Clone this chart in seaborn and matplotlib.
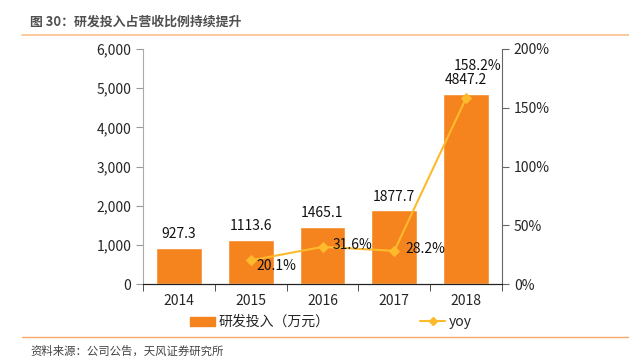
import numpy as np
import pandas as pd
import seaborn as sns
import matplotlib.pyplot as plt
from matplotlib.ticker import FuncFormatter
from matplotlib.lines import Line2D
from matplotlib.patches import Patch

years = ['2014', '2015', '2016', '2017', '2018']
rd_spend = [927.3, 1113.6, 1465.1, 1877.7, 4847.2]
yoy = [np.nan, 20.1, 31.6, 28.2, 158.2]

bar_color = '#F5841F'
line_color = '#FDBA2C'

sns.set_style('white')
plt.rcParams['font.family'] = ['Noto Sans CJK SC', 'DejaVu Sans']
plt.rcParams['axes.unicode_minus'] = False

df = pd.DataFrame({'year': years, 'rd': rd_spend, 'yoy': yoy})
df['pos'] = np.arange(len(df))

fig = plt.figure(figsize=(6.29, 3.56), dpi=100)
ax = fig.add_axes([143 / 629, 1 - 284 / 356, 359 / 629, 235 / 356])

sns.barplot(data=df, x='year', y='rd', color=bar_color, width=0.64,
            saturation=1, ax=ax)
ax.set_xlim(-0.5, 4.5)
ax.set_ylim(0, 6000)
ax.set_yticks(range(0, 6001, 1000))
ax.yaxis.set_major_formatter(FuncFormatter(lambda v, p: f'{int(v):,}'))
ax.set_xlabel('')
ax.set_ylabel('')
ax.set_xticks(np.arange(len(years)))
ax.set_xticklabels(years)
ax.set_xticks(np.arange(-0.5, len(years)), minor=True)
ax.tick_params(axis='x', which='major', length=0, labelsize=10, pad=7)
ax.tick_params(axis='x', which='minor', length=5, direction='out',
               color='#333333', bottom=True)
ax.tick_params(axis='y', length=5, direction='out', color='#999999',
               labelsize=10, left=True)

for i, v in enumerate(rd_spend):
    ax.annotate(f'{v:.1f}', (i, v), xytext=(0, 5), textcoords='offset points',
                ha='center', va='bottom', fontsize=10, color='#111111')

ax2 = ax.twinx()
sns.lineplot(data=df, x='pos', y='yoy', color=line_color, marker='D',
             markersize=5, markeredgecolor=line_color, linewidth=1.5, ax=ax2)
ax2.set_ylim(0, 200)
ax2.set_yticks(range(0, 201, 50))
ax2.yaxis.set_major_formatter(FuncFormatter(lambda v, p: f'{int(v)}%'))
ax2.set_xlim(-0.5, 4.5)
ax2.set_xlabel('')
ax2.set_ylabel('')
ax2.tick_params(axis='y', length=5, direction='out', color='#666666',
                labelsize=10, right=True)

offsets = {1: (4, -4, 'left', 'center'),
           2: (7, 1, 'left', 'center'),
           3: (8, 1, 'left', 'center'),
           4: (8, 18, 'center', 'bottom')}
for i, v in enumerate(yoy):
    if np.isnan(v):
        continue
    dx, dy, ha, va = offsets[i]
    ax2.annotate(f'{v:.1f}%', (i, v), xytext=(dx, dy), textcoords='offset points',
                 ha=ha, va=va, fontsize=10, color='#111111')

for a in (ax, ax2):
    a.spines['top'].set_visible(False)
ax.spines['left'].set_color('#AAAAAA')
ax.spines['right'].set_visible(False)
ax2.spines['left'].set_visible(False)
ax2.spines['right'].set_color('#666666')
ax2.spines['bottom'].set_color('#222222')
ax.spines['bottom'].set_color('#222222')

handles = [Patch(facecolor=bar_color, edgecolor=bar_color),
           Line2D([0], [0], color=line_color, marker='D', markersize=4, linewidth=1.5)]
fig.legend(handles, ['研发投入（万元）', 'yoy'], loc='center',
           bbox_to_anchor=(331 / 629, 1 - 322 / 356), ncol=2, frameon=False,
           fontsize=10, columnspacing=6.5, handlelength=1.8, handleheight=0.6,
           handletextpad=0.3)

fig.text(30 / 629, 1 - 22 / 356, '图 30：研发投入占营收比例持续提升', fontsize=9.3,
         color='#505050', va='center', ha='left', fontweight='bold')
fig.add_artist(Line2D([22 / 629, 1.0], [1 - 35 / 356] * 2, color='#F9C08E', linewidth=1.2))
fig.add_artist(Line2D([22 / 629, 1.0], [1 - 337 / 356] * 2, color='#F9A86A', linewidth=1.0))
fig.text(30 / 629, 1 - 351 / 356, '资料来源：公司公告，天风证券研究所', fontsize=8.2,
         color='#444444', va='center', ha='left')

fig.savefig('out.png', dpi=100)
